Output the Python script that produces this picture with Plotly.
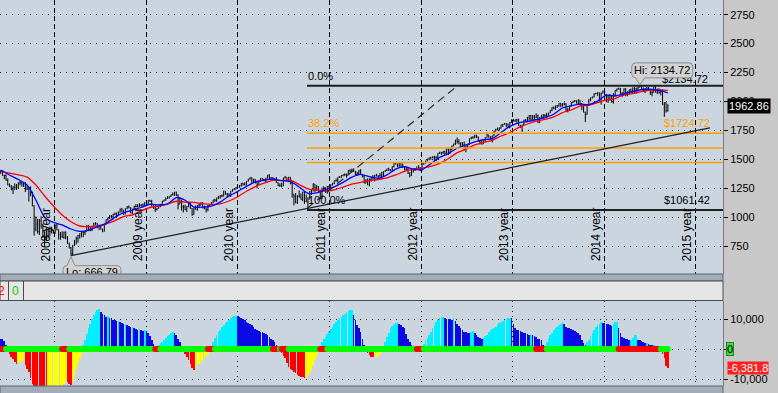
import pandas as pd
import plotly.graph_objects as go

# ---------------- weekly S&P 500 bars ----------------
first_week = "2008-05-30"

opens = [
    # 2008
    1385, 1400, 1361, 1360, 1318, 1278, 1262, 1240, 1261, 1257, 1260, 1296, 1298, 1292, 1283, 1242,
    1252, 1255, 1213, 1099, 899, 940, 876, 968, 930, 873, 800, 896, 876, 879, 887,
    # 2009
    873, 931, 890, 850, 832, 826, 869, 827, 770, 735, 683, 756, 768, 816, 842, 857, 870, 866, 877, 929,
    883, 887, 919, 940, 946, 921, 919, 896, 880, 941, 979, 987, 1010, 1005, 1026, 1029, 1016, 1042, 1068,
    1044, 1025, 1071, 1087, 1080, 1036, 1069, 1093, 1091, 1091, 1106, 1106, 1102,
    # 2010
    1127, 1115, 1145, 1136, 1092, 1074, 1066, 1075, 1109, 1105, 1139, 1150, 1160, 1167, 1179, 1194, 1192,
    1217, 1187, 1111, 1136, 1088, 1089, 1065, 1092, 1117, 1076, 1022, 1078, 1065, 1102, 1102, 1122, 1079,
    1071, 1065, 1105, 1110, 1125, 1149, 1146, 1166, 1176, 1183, 1183, 1225, 1200, 1199, 1189, 1225, 1240,
    1244, 1257,
    # 2011
    1258, 1272, 1293, 1283, 1276, 1310, 1329, 1343, 1320, 1321, 1304, 1279, 1314, 1332, 1328, 1320, 1337,
    1364, 1340, 1338, 1333, 1331, 1300, 1271, 1271, 1268, 1339, 1344, 1316, 1345, 1292, 1199, 1179, 1124,
    1177, 1174, 1154, 1216, 1136, 1131, 1155, 1224, 1238, 1285, 1253, 1263, 1216, 1159, 1244, 1255, 1219,
    1265,
    # 2012
    1258, 1278, 1289, 1315, 1316, 1345, 1343, 1361, 1366, 1370, 1371, 1404, 1397, 1408, 1398, 1370, 1379,
    1403, 1369, 1353, 1295, 1318, 1278, 1325, 1343, 1335, 1362, 1355, 1357, 1363, 1386, 1391, 1405, 1418,
    1411, 1407, 1438, 1466, 1460, 1441, 1461, 1429, 1433, 1411, 1414, 1380, 1360, 1409, 1416, 1418, 1413,
    1430,
    # 2013
    1402, 1466, 1472, 1486, 1503, 1513, 1518, 1520, 1516, 1518, 1551, 1561, 1556, 1569, 1553, 1588, 1555,
    1582, 1614, 1633, 1667, 1650, 1631, 1643, 1626, 1592, 1606, 1632, 1680, 1692, 1692, 1710, 1691, 1655,
    1664, 1633, 1655, 1688, 1710, 1692, 1690, 1703, 1745, 1760, 1762, 1771, 1798, 1804, 1806, 1805, 1775,
    1818,
    # 2014
    1841, 1832, 1842, 1839, 1790, 1783, 1797, 1838, 1836, 1859, 1878, 1841, 1866, 1857, 1865, 1816, 1864,
    1863, 1881, 1878, 1878, 1900, 1924, 1950, 1936, 1963, 1961, 1985, 1968, 1978, 1978, 1925, 1931, 1955,
    1988, 2003, 2007, 1985, 2010, 1982, 1968, 1906, 1887, 1964, 2018, 2032, 2039, 2064, 2068, 2075, 2003,
    2071,
    # 2015
    2089, 2058, 2045, 2019, 2051, 1995, 2055, 2097, 2110, 2105, 2071, 2053, 2108, 2061, 2067, 2102, 2081,
    2117, 2108, 2116, 2123, 2126, 2107, 2092, 2095, 2110, 2102, 2077, 2077, 2127, 2080, 2104, 2078, 2092,
    1971, 1989, 1921,
]

highs = [
    # 2008
    1406, 1405, 1367, 1370, 1335, 1291, 1278, 1267, 1292, 1286, 1300, 1314, 1300, 1304, 1304, 1275,
    1265, 1266, 1220, 1102, 1006, 985, 984, 1007, 943, 876, 904, 899, 918, 918, 890,
    # 2009
    934, 943, 891, 871, 877, 875, 876, 836, 780, 742, 758, 803, 832, 845, 858, 875, 875, 880, 930, 931,
    924, 920, 951, 956, 947, 935, 931, 899, 943, 979, 996, 1018, 1018, 1027, 1039, 1039, 1048, 1074, 1080,
    1065, 1076, 1096, 1101, 1085, 1072, 1097, 1113, 1112, 1120, 1110, 1118, 1128,
    # 2010
    1130, 1146, 1150, 1150, 1103, 1104, 1081, 1110, 1112, 1139, 1150, 1170, 1181, 1181, 1195, 1214, 1217,
    1220, 1197, 1174, 1150, 1105, 1106, 1095, 1120, 1131, 1078, 1080, 1100, 1104, 1120, 1128, 1130, 1100,
    1077, 1105, 1110, 1131, 1149, 1158, 1168, 1184, 1189, 1196, 1227, 1226, 1207, 1205, 1225, 1241, 1247,
    1258, 1263,
    # 2011
    1277, 1294, 1296, 1302, 1311, 1330, 1344, 1344, 1332, 1330, 1305, 1315, 1337, 1339, 1329, 1340, 1364,
    1371, 1346, 1346, 1334, 1346, 1301, 1292, 1298, 1341, 1356, 1344, 1348, 1345, 1307, 1199, 1208, 1190,
    1230, 1204, 1220, 1220, 1195, 1171, 1224, 1239, 1293, 1285, 1277, 1267, 1217, 1255, 1267, 1255, 1269,
    1269,
    # 2012
    1284, 1296, 1315, 1333, 1346, 1355, 1363, 1368, 1378, 1374, 1406, 1414, 1419, 1422, 1398, 1392, 1406,
    1415, 1370, 1365, 1328, 1335, 1335, 1344, 1363, 1362, 1374, 1361, 1380, 1391, 1395, 1406, 1418, 1427,
    1414, 1438, 1475, 1474, 1460, 1470, 1465, 1464, 1434, 1434, 1433, 1388, 1409, 1420, 1424, 1438, 1449,
    1431,
    # 2013
    1467, 1473, 1486, 1503, 1514, 1518, 1524, 1531, 1525, 1552, 1564, 1563, 1570, 1573, 1594, 1597, 1592,
    1618, 1635, 1667, 1688, 1674, 1646, 1648, 1654, 1620, 1632, 1680, 1693, 1698, 1710, 1711, 1697, 1664,
    1669, 1664, 1689, 1730, 1711, 1699, 1704, 1745, 1764, 1775, 1774, 1799, 1805, 1813, 1811, 1808, 1823,
    1844,
    # 2014
    1849, 1843, 1850, 1850, 1798, 1798, 1841, 1847, 1867, 1883, 1883, 1883, 1884, 1897, 1887, 1865, 1884,
    1891, 1889, 1902, 1901, 1924, 1950, 1955, 1963, 1968, 1985, 1986, 1984, 1991, 1985, 1942, 1964, 1994,
    2005, 2011, 2008, 2019, 2010, 1985, 1977, 1912, 1965, 2019, 2034, 2041, 2071, 2075, 2079, 2077, 2077,
    2094,
    # 2015
    2093, 2064, 2057, 2064, 2057, 2072, 2097, 2111, 2119, 2117, 2081, 2114, 2114, 2088, 2102, 2111, 2120,
    2126, 2117, 2123, 2134.72, 2132, 2121, 2115, 2127, 2126, 2103, 2099, 2128, 2132, 2111, 2113, 2105, 2104,
    1993, 1993, 1976,
]

lows = [
    # 2008
    1373, 1358, 1327, 1315, 1275, 1260, 1231, 1200, 1235, 1235, 1245, 1275, 1263, 1260, 1217, 1233,
    1134, 1180, 1092, 840, 877, 858, 845, 900, 819, 741, 797, 815, 837, 857, 857,
    # 2009
    857, 886, 805, 804, 821, 812, 808, 767, 729, 666.79, 672, 749, 764, 779, 814, 826, 826, 846, 875, 879,
    878, 881, 917, 933, 903, 888, 892, 869, 875, 940, 970, 986, 990, 978, 1015, 991, 1016, 1039, 1041,
    1020, 1025, 1069, 1075, 1033, 1029, 1069, 1085, 1083, 1086, 1085, 1093, 1100,
    # 2010
    1115, 1115, 1131, 1090, 1071, 1045, 1057, 1075, 1086, 1105, 1133, 1141, 1156, 1160, 1175, 1186, 1183,
    1182, 1066, 1111, 1056, 1040, 1060, 1043, 1085, 1071, 1011, 1022, 1063, 1056, 1088, 1101, 1076, 1068,
    1040, 1050, 1090, 1107, 1122, 1131, 1131, 1155, 1159, 1171, 1179, 1194, 1173, 1178, 1174, 1220, 1233,
    1238, 1254,
    # 2011
    1257, 1262, 1272, 1275, 1276, 1307, 1324, 1295, 1303, 1291, 1249, 1279, 1305, 1322, 1309, 1295, 1334,
    1329, 1329, 1327, 1311, 1297, 1268, 1262, 1258, 1268, 1333, 1306, 1302, 1283, 1168, 1101, 1120, 1114,
    1170, 1150, 1137, 1114, 1131, 1074, 1154, 1191, 1221, 1215, 1226, 1209, 1158, 1158, 1226, 1209, 1202,
    1248,
    # 2012
    1258, 1274, 1285, 1306, 1300, 1337, 1340, 1352, 1354, 1340, 1370, 1388, 1391, 1392, 1357, 1358, 1366,
    1367, 1343, 1292, 1291, 1277, 1266, 1306, 1324, 1309, 1352, 1326, 1345, 1329, 1354, 1391, 1397, 1398,
    1397, 1396, 1429, 1454, 1431, 1436, 1425, 1426, 1403, 1404, 1373, 1343, 1358, 1385, 1398, 1411, 1411,
    1398,
    # 2013
    1402, 1451, 1461, 1482, 1492, 1495, 1508, 1486, 1485, 1512, 1547, 1538, 1545, 1536, 1548, 1536, 1548,
    1581, 1614, 1624, 1635, 1630, 1598, 1608, 1577, 1560, 1601, 1626, 1672, 1676, 1681, 1684, 1654, 1627,
    1627, 1633, 1655, 1687, 1687, 1670, 1646, 1700, 1740, 1750, 1746, 1764, 1780, 1800, 1779, 1772, 1767,
    1815,
    # 2014
    1827, 1823, 1815, 1790, 1770, 1738, 1791, 1821, 1825, 1834, 1839, 1840, 1839, 1857, 1814, 1815, 1859,
    1851, 1859, 1862, 1868, 1899, 1916, 1932, 1925, 1944, 1955, 1952, 1955, 1965, 1916, 1905, 1928, 1955,
    1986, 1994, 1983, 1978, 1965, 1926, 1906, 1821, 1886, 1961, 2001, 2026, 2034, 2064, 2049, 2002, 1973,
    2069,
    # 2015
    2054, 1993, 1988, 2005, 1989, 1981, 2041, 2086, 2103, 2066, 2039, 2049, 2045, 2045, 2057, 2073, 2073,
    2067, 2067, 2085, 2121, 2100, 2085, 2072, 2089, 2097, 2056, 2044, 2077, 2078, 2063, 2067, 2052, 1971,
    1867, 1903, 1911,
]

closes = [
    # 2008
    1400, 1361, 1360, 1318, 1278, 1262, 1240, 1261, 1257, 1260, 1296, 1298, 1292, 1283, 1242, 1252,
    1255, 1213, 1099, 899, 940, 876, 968, 930, 873, 800, 896, 876, 879, 887, 873,
    # 2009
    931, 890, 850, 832, 826, 869, 827, 770, 735, 683, 756, 768, 816, 842, 857, 870, 866, 877, 929, 883,
    887, 919, 940, 946, 921, 919, 896, 880, 941, 979, 987, 1010, 1005, 1026, 1029, 1016, 1042, 1068, 1044,
    1025, 1071, 1087, 1080, 1036, 1069, 1093, 1091, 1091, 1106, 1106, 1102, 1127,
    # 2010
    1115, 1145, 1136, 1092, 1074, 1066, 1075, 1109, 1105, 1139, 1150, 1160, 1167, 1179, 1194, 1192, 1217,
    1187, 1111, 1136, 1088, 1089, 1065, 1092, 1117, 1076, 1022, 1078, 1065, 1102, 1102, 1122, 1079, 1071,
    1065, 1105, 1110, 1125, 1149, 1146, 1166, 1176, 1183, 1183, 1225, 1200, 1199, 1189, 1225, 1240, 1244,
    1257, 1258,
    # 2011
    1272, 1293, 1283, 1276, 1310, 1329, 1343, 1320, 1321, 1304, 1279, 1314, 1332, 1328, 1320, 1337, 1364,
    1340, 1338, 1333, 1331, 1300, 1271, 1271, 1268, 1339, 1344, 1316, 1345, 1292, 1199, 1179, 1124, 1177,
    1174, 1154, 1216, 1136, 1131, 1155, 1224, 1238, 1285, 1253, 1263, 1216, 1159, 1244, 1255, 1219, 1265,
    1258,
    # 2012
    1278, 1289, 1315, 1316, 1345, 1343, 1361, 1366, 1370, 1371, 1404, 1397, 1408, 1398, 1370, 1379, 1403,
    1369, 1353, 1295, 1318, 1278, 1325, 1343, 1335, 1362, 1355, 1357, 1363, 1386, 1391, 1405, 1418, 1411,
    1407, 1438, 1466, 1460, 1441, 1461, 1429, 1433, 1411, 1414, 1380, 1360, 1409, 1416, 1418, 1413, 1430,
    1402,
    # 2013
    1466, 1472, 1486, 1503, 1513, 1518, 1520, 1516, 1518, 1551, 1561, 1556, 1569, 1553, 1588, 1555, 1582,
    1614, 1633, 1667, 1650, 1631, 1643, 1626, 1592, 1606, 1632, 1680, 1692, 1692, 1710, 1691, 1655, 1664,
    1633, 1655, 1688, 1710, 1692, 1690, 1703, 1745, 1760, 1762, 1771, 1798, 1804, 1806, 1805, 1775, 1818,
    1841,
    # 2014
    1832, 1842, 1839, 1790, 1783, 1797, 1838, 1836, 1859, 1878, 1841, 1866, 1857, 1865, 1816, 1864, 1863,
    1881, 1878, 1878, 1900, 1924, 1950, 1936, 1963, 1961, 1985, 1968, 1978, 1978, 1925, 1931, 1955, 1988,
    2003, 2007, 1985, 2010, 1982, 1968, 1906, 1887, 1964, 2018, 2032, 2039, 2064, 2068, 2075, 2003, 2071,
    2089,
    # 2015
    2058, 2045, 2019, 2051, 1995, 2055, 2097, 2110, 2105, 2071, 2053, 2108, 2061, 2067, 2102, 2081, 2117,
    2108, 2116, 2123, 2126, 2107, 2092, 2095, 2110, 2102, 2077, 2077, 2127, 2080, 2104, 2078, 2092, 1971,
    1989, 1921, 1962.86,
]

# moving averages, read every 5th week
ma_step = 5
blue_ma = [
    1407, 1364, 1326, 1277, 1148, 998, 955, 932, 897, 877, 888, 917, 946, 998, 1038, 1061,
    1083, 1111, 1104, 1114, 1169, 1146, 1087, 1086, 1095, 1130, 1182, 1222, 1266, 1305, 1319, 1329, 1315, 1308,
    1260, 1205, 1210, 1235, 1262, 1300, 1345, 1370, 1350, 1335, 1365,
    1415, 1436, 1415, 1411, 1462, 1516, 1549, 1597, 1624, 1650, 1670, 1678, 1732, 1784, 1815, 1826,
    1842, 1861, 1889, 1944, 1963, 1976, 1973, 2002, 2054, 2048, 2066, 2088, 2101, 2106, 2095, 2075,
]
red_ma = [
    1393, 1380, 1365, 1345, 1277, 1182, 1096, 1018, 960, 923, 917, 923, 940, 969, 1004, 1020,
    1054, 1083, 1094, 1113, 1137, 1130, 1128, 1116, 1110, 1115, 1139, 1176, 1224, 1264, 1293, 1317, 1317,
    1319, 1282, 1245, 1235,
    1225, 1235, 1260, 1285, 1300, 1315, 1325, 1340,
    1365, 1395, 1412, 1424, 1439, 1464, 1506, 1557, 1587, 1624, 1647, 1664, 1701, 1731, 1774, 1805,
    1829, 1844, 1866, 1903, 1926, 1960, 1968, 1989, 2014, 2025, 2060, 2068, 2084, 2097, 2100, 2095,
]

# lower-panel momentum histogram (one value per week)
hist = [
    3500, 3400, 2800, 1500, -500, -1500, -2500, -3300, -4200, -5000,
    -4800, -4300, -3900, -3600, -5200, -6500, -7800, -9500, -11500, -13500,
    -15000, -16500, -17500, -18000, -18500, -19500, -20000, -19500, -19000, -18200,
    -17500, -16500, -15500, -14500, -13500, -12500, -11500, -10500, -11000, -11500,
    -12000, -10500, -8500, -6500, -4500, -3000, -1500, 1300, 3000, 5000,
    7000, 8500, 10000, 11500, 12500, 13000, 13300, 12500, 11800, 11200,
    10800, 11000, 10500, 10200, 9800, 9600, 9300, 9500, 9000, 8600,
    8200, 8400, 8000, 7600, 7200, 7400, 7000, 6800, 6500, 6600,
    6300, 6100, 6300, 6000, 5200, 4200, 3000, 1800, 800, 300,
    1200, 1900, 2500, 3000, 3600, 4200, 4800, 5400, 5800, 5500,
    4800, 3500, 2200, 1000, -600, -1500, -2500, -3500, -5000, -6200,
    -6900, -6400, -5700, -5000, -4200, -3600, -2900, -2300, -1600, -900,
    1000, 2400, 3800, 4700, 5600, 6300, 7200, 8000, 8700, 9100,
    9800, 10300, 10800, 11000, 11100, 10900, 10600, 10300, 10000, 9600,
    9100, 8800, 8300, 8000, 7400, 6800, 6300, 6000, 5800, 5600,
    5400, 5000, 4700, 4100, 3500, 2900, 2400, 1300, 400, -500,
    -1400, -2200, -3100, -4500, -5900, -6500, -7000, -7500, -8100, -8500,
    -9000, -9200, -9400, -9600, -9200, -8700, -7800, -7000, -5300, -3700,
    -2000, -800, 900, 2400, 3300, 4100, 5000, 5800, 6600, 7400,
    8200, 9100, 9700, 10200, 10700, 11300, 11800, 12200, 12700, 12900,
    13000, 11300, 9700, 8000, 6900, 5800, 3500, 1300, 300, -1400,
    -2000, -2500, -2800, -2700, -2500, -2200, -1500, -800, 800, 2400,
    4100, 5500, 6900, 7700, 8500, 8800, 9100, 8500, 8000, 7500,
    6900, 5000, 3200, 2400, 1500, 800, 300, 200, 100, 300,
    800, 1800, 3000, 3800, 4700, 5800, 6900, 8000, 9100, 9800,
    10400, 10600, 10800, 10200, 10100, 10000, 9900, 9800, 10200, 9500,
    8500, 7700, 6900, 6300, 5800, 5700, 5500, 5400, 5700, 6000,
    5400, 4800, 4100, 3800, 3500, 3700, 4200, 4700, 5800, 6300,
    6600, 6900, 7400, 8000, 8600, 9100, 9400, 9700, 10000, 10400,
    10400, 10200, 8500, 6900, 6500, 6300, 6000, 5800, 5500, 5200,
    5000, 4700, 4700, 4600, 4300, 4000, 3500, 3200, 3000, 1500,
    800, 2400, 3500, 4700, 5500, 6300, 6900, 7400, 8000, 8500,
    9100, 8200, 7400, 7100, 6900, 6600, 6300, 6000, 5800, 5200,
    4700, 3000, 2000, 1500, 2200, 3000, 4200, 5200, 6300, 7400,
    8000, 8500, 8900, 8800, 8700, 8500, 8300, 8000, 7800, 8500,
    9000, 9100, 6900, 5500, 4100, 3800, 3500, 3200, 3000, 3000,
    3800, 4700, 4700, 3000, 2900, 2800, 2300, 1900, 1900, 1700,
    1500, 1300, 1300, 500, 200, 100, 50, -1500, -3000, -5800,
    -6381.8,
]
# weeks (first, last index) where the squeeze dots are red
squeeze_on = [(0, 2), (35, 38), (88, 90), (118, 121), (155, 158), (160, 163),
              (182, 185), (237, 240), (305, 310), (352, 375)]

# drawing objects
fib_start = "2011-10-03"
fib_levels = [2134.72, 1724.72, 1598.07, 1471.42, 1061.42]
hi_date, hi_value = "2015-05-22", 2134.72
lo_date, lo_value = "2009-03-06", 666.79
trend_line = [("2009-03-06", 666.79), ("2016-02-26", 1772)]
fan_line = [("2011-10-03", 1074.77), ("2013-05-14", 2116)]
last_price = 1962.86
last_hist = -6381.8
year_lines = ["2009-01-01", "2010-01-01", "2011-01-01", "2012-01-01",
              "2013-01-01", "2014-01-01", "2015-01-01", "2016-01-01"]
year_labels = ["2008 year", "2009 year", "2010 year", "2011 year",
               "2012 year", "2013 year", "2014 year", "2015 year"]
price_ticks = [750, 1000, 1250, 1500, 1750, 2000, 2250, 2500, 2750]

# ---------------- layout geometry ----------------
n = len(closes)
assert len(opens) == len(highs) == len(lows) == n == len(hist)
dates = pd.date_range(first_week, periods=n, freq="W-FRI")
ma_dates = dates[::ma_step]
assert len(blue_ma) == len(red_ma) == len(ma_dates)

W, H = 778, 393
PLOT_RIGHT = 723
MAIN_TOP, MAIN_BOTTOM = 0, 274
LOW_TOP, LOW_BOTTOM = 301, 386
X_RANGE = ["2008-05-27", "2016-04-18"]
Y_RANGE = [508, 2877]
Y2_RANGE = [-12333, 16000]


def pxx(p):
    return p / W


def pxy(p):
    return 1 - p / H


x0 = pd.Timestamp(X_RANGE[0])
days_per_px = (pd.Timestamp(X_RANGE[1]) - x0).days / PLOT_RIGHT
units_per_px = (Y_RANGE[1] - Y_RANGE[0]) / (MAIN_BOTTOM - MAIN_TOP)

FONT = "Liberation Sans, Arial, sans-serif"
PLOT_BG = "#cbd5e0"
SIDE_BG = "#c8c8c8"

fig = go.Figure()

# price bars
fig.add_trace(go.Ohlc(
    x=dates, open=opens, high=highs, low=lows, close=closes,
    increasing=dict(line=dict(color="black", width=1)),
    decreasing=dict(line=dict(color="black", width=1)),
    tickwidth=0.3, hoverinfo="skip", xaxis="x", yaxis="y"))

fig.add_trace(go.Scatter(x=ma_dates, y=red_ma, mode="lines",
                         line=dict(color="#ff0000", width=1.3, shape="spline", smoothing=0.6),
                         hoverinfo="skip", xaxis="x", yaxis="y"))
fig.add_trace(go.Scatter(x=ma_dates, y=blue_ma, mode="lines",
                         line=dict(color="#0000ff", width=1.3, shape="spline", smoothing=0.6),
                         hoverinfo="skip", xaxis="x", yaxis="y"))

# "$2134.72" label (sits under the Hi callout)
fig.add_trace(go.Scatter(
    x=[x0 + pd.Timedelta(days=662 * days_per_px)], y=[fib_levels[0]], mode="text",
    text=["$%.2f" % fib_levels[0]], textposition="top right",
    textfont=dict(family=FONT, size=11, color="black"), hoverinfo="skip",
    xaxis="x", yaxis="y"))

# Lo label text (clipped by the plot bottom)
fig.add_trace(go.Scatter(
    x=[pd.Timestamp(lo_date) + pd.Timedelta(days=21 * days_per_px)],
    y=[lo_value - 18 * units_per_px], mode="text",
    text=["Lo: %.2f" % lo_value], textposition="middle center",
    textfont=dict(family=FONT, size=11, color="black"), cliponaxis=True,
    hoverinfo="skip", xaxis="x", yaxis="y"))

# histogram colours: cyan/blue above zero (rising/falling), red/yellow below (falling/rising)
hist_colors = []
prev = hist[0] + 1
for v in hist:
    if v >= 0:
        hist_colors.append("#00f0ff" if v >= prev else "#0a0ae6")
    else:
        hist_colors.append("#ff0000" if v <= prev else "#ffff00")
    prev = v

fig.add_trace(go.Bar(x=dates, y=hist, marker=dict(color=hist_colors, line=dict(width=0)),
                     width=0.36 * 7 * 86400000, hoverinfo="skip", xaxis="x2", yaxis="y2"))

sq_colors = ["#00ff00"] * n
for a, b in squeeze_on:
    for i in range(a, b + 1):
        sq_colors[i] = "#ff0000"
fig.add_trace(go.Scatter(x=dates, y=[0] * n, mode="markers",
                         marker=dict(size=6, color=sq_colors, line=dict(width=0)),
                         hoverinfo="skip", xaxis="x2", yaxis="y2"))

shapes = []
# Fibonacci levels
for k, lv in enumerate(fib_levels):
    edge = k in (0, len(fib_levels) - 1)
    shapes.append(dict(type="line", xref="x", yref="y", x0=fib_start, x1=X_RANGE[1],
                       y0=lv, y1=lv, layer="above",
                       line=dict(color="#1e1e1e" if edge else "#ffa000", width=2 if edge else 1.5)))
shapes.append(dict(type="line", xref="x", yref="y", x0=trend_line[0][0], y0=trend_line[0][1],
                   x1=trend_line[1][0], y1=trend_line[1][1], layer="above",
                   line=dict(color="#1e1e1e", width=1.2)))
shapes.append(dict(type="line", xref="x", yref="y", x0=fan_line[0][0], y0=fan_line[0][1],
                   x1=fan_line[1][0], y1=fan_line[1][1], layer="above",
                   line=dict(color="#2a2a2a", width=1.2, dash="8px,5px")))
# Hi callout bubble (pixel offsets from the high)
shapes.append(dict(type="path", xref="x", yref="y", xsizemode="pixel", ysizemode="pixel",
                   xanchor=hi_date, yanchor=hi_value, layer="above",
                   path="M -4,8 L 0,1 L 5,8 L 49,8 Q 53,8 53,12 L 53,19 Q 53,23 49,23 "
                        "L -4,23 Q -8,23 -8,19 L -8,12 Q -8,8 -4,8 Z",
                   fillcolor="#d2d2d2", line=dict(color="#8c8c8c", width=1)))
# Lo callout bubble
shapes.append(dict(type="path", xref="x", yref="y", xsizemode="pixel", ysizemode="pixel",
                   xanchor=lo_date, yanchor=lo_value, layer="below",
                   path="M -4,-10 L 0,-1 L 4,-10 L 46,-10 Q 50,-10 50,-14 L 50,-40 "
                        "L -8,-40 L -8,-14 Q -8,-10 -4,-10 Z",
                   fillcolor="#d2d2d2", line=dict(color="#8c8c8c", width=1)))
# separators between panels
for top, bot in ((274, 281), (386, 394)):
    shapes.append(dict(type="rect", xref="paper", yref="paper", x0=0, x1=pxx(PLOT_RIGHT),
                       y0=pxy(bot), y1=pxy(top), fillcolor="#a2acb9",
                       line=dict(color="#5d6773", width=1), layer="above"))
shapes.append(dict(type="rect", xref="paper", yref="paper", x0=0, x1=pxx(PLOT_RIGHT),
                   y0=pxy(300.5), y1=pxy(281), fillcolor="#e6e6e6",
                   line=dict(color="#4a4a4a", width=1), layer="above"))
for xp in (8.5, 23.5):
    shapes.append(dict(type="line", xref="paper", yref="paper", x0=pxx(xp), x1=pxx(xp),
                       y0=pxy(300.5), y1=pxy(281), line=dict(color="#4a4a4a", width=1),
                       layer="above"))

ann = []
for d, lab in zip(year_lines, year_labels):
    ann.append(dict(x=d, y=pxy(263), xref="x", yref="paper", text=lab, textangle=-90,
                    showarrow=False, xanchor="right", yanchor="bottom", xshift=0,
                    font=dict(family=FONT, size=12, color="black")))
ann.append(dict(x=fib_start, y=fib_levels[0], xref="x", yref="y", text="0.0%", showarrow=False,
                xanchor="left", yanchor="bottom", yshift=2, xshift=-1,
                font=dict(family=FONT, size=11, color="black")))
ann.append(dict(x=fib_start, y=fib_levels[1], xref="x", yref="y", text="38.2%", showarrow=False,
                xanchor="left", yanchor="bottom", yshift=2, xshift=-1,
                font=dict(family=FONT, size=11, color="#ffa000")))
ann.append(dict(x=fib_start, y=fib_levels[4], xref="x", yref="y", text="100.0%", showarrow=False,
                xanchor="left", yanchor="bottom", yshift=2, xshift=-1,
                font=dict(family=FONT, size=11, color="black")))
ann.append(dict(x=pxx(662), y=fib_levels[1], xref="paper", yref="y", text="$%.2f" % fib_levels[1],
                showarrow=False, xanchor="left", yanchor="bottom", yshift=2,
                font=dict(family=FONT, size=11, color="#ffa000")))
ann.append(dict(x=pxx(662), y=fib_levels[4], xref="paper", yref="y", text="$%.2f" % fib_levels[4],
                showarrow=False, xanchor="left", yanchor="bottom", yshift=2,
                font=dict(family=FONT, size=11, color="black")))
ann.append(dict(x=hi_date, y=hi_value, xref="x", yref="y", text="Hi: %.2f" % hi_value,
                showarrow=False, xanchor="center", yanchor="middle", xshift=22.5, yshift=15.5,
                font=dict(family=FONT, size=11, color="black")))
ann.append(dict(x=pxx(727), y=last_price, xref="paper", yref="y", text="%.2f" % last_price,
                showarrow=False, xanchor="left", yanchor="middle", bgcolor="black", borderpad=1,
                font=dict(family=FONT, size=11, color="white")))
ann.append(dict(x=pxx(726), y=0, xref="paper", yref="y2", text="0", showarrow=False,
                xanchor="left", yanchor="middle", bgcolor="#3fdc3f", bordercolor="#1d8c1d",
                borderwidth=1, borderpad=0, font=dict(family=FONT, size=11, color="black")))
ann.append(dict(x=pxx(727), y=last_hist, xref="paper", yref="y2", text="{:,.1f}".format(last_hist),
                showarrow=False, xanchor="left", yanchor="middle", bgcolor="#ff2020", borderpad=0,
                font=dict(family=FONT, size=11, color="white")))
ann.append(dict(x=pxx(1), y=pxy(291), xref="paper", yref="paper", text="2", showarrow=False,
                xanchor="center", yanchor="middle", font=dict(family=FONT, size=12, color="#ff0000")))
ann.append(dict(x=pxx(15.5), y=pxy(291), xref="paper", yref="paper", text="0", showarrow=False,
                xanchor="center", yanchor="middle", font=dict(family=FONT, size=12, color="#00cc00")))

tickfont = dict(family=FONT, size=11, color="black")
fig.update_layout(
    width=W, height=H, autosize=False, margin=dict(l=0, r=0, t=0, b=0, pad=0),
    paper_bgcolor=SIDE_BG, plot_bgcolor=PLOT_BG, showlegend=False, bargap=0,
    xaxis=dict(domain=[0, pxx(PLOT_RIGHT)], range=X_RANGE, type="date", anchor="y",
               tickvals=year_lines, showticklabels=False, ticks="", showgrid=True,
               gridcolor="black", gridwidth=1, griddash="5px,3px", zeroline=False,
               showline=False, rangeslider=dict(visible=False), fixedrange=True),
    yaxis=dict(domain=[pxy(MAIN_BOTTOM), pxy(MAIN_TOP)], range=Y_RANGE, anchor="x", side="right",
               tickvals=price_ticks, ticks="outside", ticklen=4, tickcolor="black",
               tickfont=tickfont, showgrid=True, gridcolor="#1a1a1a", gridwidth=1,
               griddash="1px,5px", zeroline=False, showline=True, linecolor="#7a7a7a",
               fixedrange=True),
    xaxis2=dict(domain=[0, pxx(PLOT_RIGHT)], range=X_RANGE, type="date", anchor="y2",
                tickvals=year_lines, showticklabels=False, ticks="", showgrid=True,
                gridcolor="black", gridwidth=1, griddash="1px,4px", zeroline=False,
                showline=False, fixedrange=True),
    yaxis2=dict(domain=[pxy(LOW_BOTTOM), pxy(LOW_TOP)], range=Y2_RANGE, anchor="x2", side="right",
                tickvals=[-10000, 0, 10000], ticktext=["-10,000", "", "10,000"], ticks="outside",
                ticklen=4, tickcolor="black", tickfont=tickfont, showgrid=True,
                gridcolor="#1a1a1a", gridwidth=1, griddash="1px,5px", zeroline=False,
                showline=True, linecolor="#7a7a7a", fixedrange=True),
    shapes=shapes, annotations=ann,
)

fig.write_html(
    "out.html",
    config={"displayModeBar": False},
    post_script="document.body.style.margin='0px';document.body.style.overflow='hidden';",
)
